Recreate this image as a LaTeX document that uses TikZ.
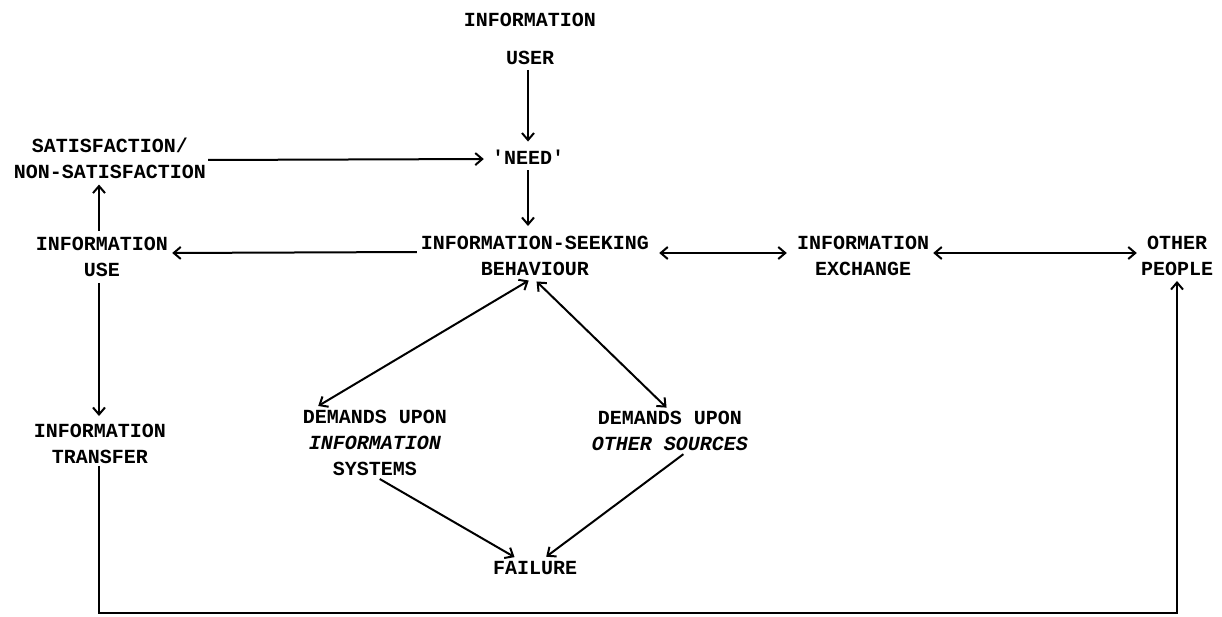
\documentclass[tikz,border=0pt]{standalone}
\usepackage{fontspec}
\setmonofont{Liberation Mono}
\usetikzlibrary{arrows.meta}
\begin{document}
\begin{tikzpicture}[x=1pt,y=-1pt,
  lbl/.style={font=\ttfamily\bfseries\fontsize{20}{26}\selectfont,align=center,inner sep=2pt},
  link/.style={line width=2pt,-{Straight Barb[length=7pt,width=12pt]}},
  dlink/.style={line width=2pt,{Straight Barb[length=7pt,width=12pt]}-{Straight Barb[length=7pt,width=12pt]}}]
\useasboundingbox (0,0) rectangle (1222,617);

% concepts
\node[lbl] (user) at (530,39) {INFORMATION\\[12pt]USER};
\node[lbl] (need) at (528,157) {'NEED'};
\node[lbl] (sat) at (110,158) {SATISFACTION/\\NON-SATISFACTION};
\node[lbl] (use) at (102,257) {INFORMATION\\USE};
\node[lbl] (seek) at (535,256) {INFORMATION-SEEKING\\BEHAVIOUR};
\node[lbl] (exch) at (863,256) {INFORMATION\\EXCHANGE};
\node[lbl] (people) at (1177,256) {OTHER\\PEOPLE};
\node[lbl] (transfer) at (100,444) {INFORMATION\\TRANSFER};
\node[lbl] (dem1) at (375,443) {DEMANDS UPON\\\textit{INFORMATION}\\SYSTEMS};
\node[lbl] (dem2) at (670,431) {DEMANDS UPON\\\textit{OTHER SOURCES}};
\node[lbl] (fail) at (535,568) {FAILURE};

% the left-hand column runs straight down this line
\coordinate (col) at (99,0);

% flows
\draw[link,shorten <=3pt,shorten >=6pt] (need.north |- user.south) -- (need.north);
\draw[link,shorten <=4pt,shorten >=8pt] (need.south) -- (need.south |- seek.north);
\draw[link,shorten >=6pt] ([yshift=-2pt]sat.east) -- ([yshift=-2pt]need.west);
\draw[link,shorten <=4pt,shorten >=4pt] (use.north -| col) -- (sat.south -| col);
\draw[link,shorten <=2pt,shorten >=2pt] ([yshift=4pt]seek.west) -- ([yshift=4pt]use.east);
\draw[dlink,shorten <=8pt,shorten >=8pt] ([yshift=3pt]seek.east) -- ([yshift=3pt]exch.west);
\draw[dlink,shorten <=2pt,shorten >=2pt] ([yshift=3pt]exch.east) -- ([yshift=3pt]people.west);
\draw[link,shorten <=4pt,shorten >=6pt] (use.south -| col) -- (transfer.north -| col);
\draw[dlink,shorten <=5pt,shorten >=4pt] ([xshift=-2pt]seek.south) -- ([xshift=14pt]dem1.north west);
\draw[dlink,shorten <=5pt,shorten >=2pt] ([xshift=-2pt]seek.south) -- ([xshift=-2pt]dem2.north);
\draw[link,shorten <=2pt,shorten >=4pt] ([xshift=3pt]dem1.south) -- ([xshift=-17pt]fail.north);
\draw[link,shorten <=2pt,shorten >=4pt] ([xshift=15pt]dem2.south) -- ([xshift=8pt]fail.north);

% return path from transfer round to other people
\coordinate (floor) at (0,613);
\draw[link,shorten >=3pt] (transfer.south -| col) |- (floor -| people.south) -- (people.south);
\end{tikzpicture}
\end{document}
